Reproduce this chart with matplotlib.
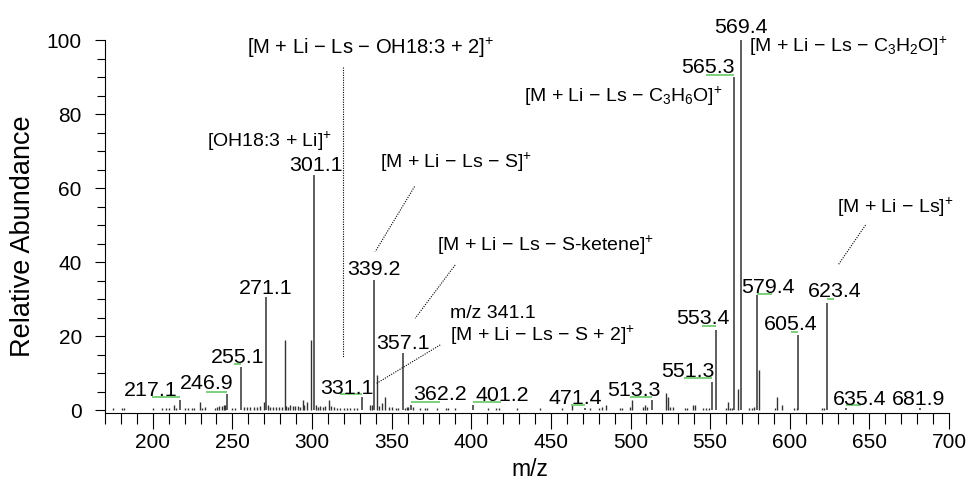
import numpy as np
import matplotlib.pyplot as plt
from matplotlib.ticker import MultipleLocator

plt.rcParams['font.family'] = ['Liberation Sans', 'DejaVu Sans']
plt.rcParams['mathtext.fontset'] = 'custom'
plt.rcParams['mathtext.rm'] = 'Liberation Sans'
plt.rcParams['mathtext.it'] = 'Liberation Sans:italic'
plt.rcParams['mathtext.bf'] = 'Liberation Sans:bold'

# labelled peaks (m/z, relative abundance)
peak_mz = [217.1, 246.9, 255.1, 271.1, 301.1, 331.1, 339.2, 357.1, 362.2, 401.2,
           471.4, 513.3, 551.3, 553.4, 565.3, 569.4, 579.4, 605.4, 623.4, 635.4, 681.9]
peak_ab = [2.7, 4.3, 11.7, 30.6, 63.5, 3.6, 35.1, 15.3, 1.35, 1.4,
           0.5, 2.7, 7.7, 21.6, 90.0, 100.0, 31.1, 20.3, 29.0, 0.5, 0.5]
peak_lab = ['217.1', '246.9', '255.1', '271.1', '301.1', '331.1', '339.2', '357.1', '362.2', '401.2',
            '471.4', '513.3', '551.3', '553.4', '565.3', '569.4', '579.4', '605.4', '623.4', '635.4', '681.9']

# unlabelled peaks
other_mz = [174.9, 180.8, 182.2, 200.0, 205.9, 208.0, 210.0, 213.2, 214.7, 220.5, 222.0, 224.7,
            226.2, 229.5, 231.0, 233.1, 239.3, 240.4, 241.8, 243.5, 244.5, 245.6, 249.8, 251.9,
            257.1, 259.2, 261.3, 263.4, 265.5, 267.6, 269.6, 272.6, 273.8, 275.5, 277.5, 279.5,
            281.0, 282.8, 283.9, 284.9, 286.4, 288.1, 289.5, 291.0, 292.7, 294.1, 295.2, 296.9,
            299.1, 302.6, 303.5, 305.2, 306.9, 308.3, 310.4, 311.9, 313.6, 315.7, 317.8, 319.9,
            322.0, 324.1, 326.2, 328.2, 336.1, 337.6, 341.1, 342.3, 343.9, 346.0, 348.1, 350.2,
            352.9, 353.8, 358.4, 359.6, 360.5, 363.2, 368.0, 371.1, 372.1, 378.4, 384.3, 385.7,
            389.9, 410.8, 415.6, 417.7, 428.6, 443.2, 456.8, 463.1, 474.6, 480.4, 481.9, 484.6,
            493.4, 494.9, 499.7, 500.7, 508.0, 509.1, 510.2, 522.3, 523.3, 524.8, 526.5, 534.2,
            535.6, 539.0, 540.5, 545.3, 547.4, 549.4, 559.9, 561.4, 562.4, 563.5, 567.6, 574.3,
            576.0, 577.5, 580.6, 590.7, 592.1, 594.9, 602.8, 604.3, 620.0, 621.4]
other_ab = [0.6, 0.6, 0.6, 0.6, 0.5, 0.5, 0.6, 1.3, 0.5, 0.5, 0.5, 0.6,
            0.6, 2.1, 0.6, 0.9, 0.6, 0.9, 1.2, 1.2, 1.35, 1.35, 0.6, 0.6,
            0.9, 0.9, 0.9, 0.9, 0.9, 1.2, 2.1, 1.35, 0.9, 0.9, 0.9, 0.9,
            0.9, 18.9, 1.2, 0.9, 1.35, 1.0, 1.0, 1.0, 0.9, 2.7, 1.35, 2.1,
            18.9, 1.35, 0.9, 1.2, 0.9, 1.2, 2.7, 1.2, 0.9, 0.5, 0.5, 0.5,
            0.5, 0.5, 0.5, 0.5, 1.35, 1.35, 9.5, 1.2, 1.8, 3.4, 0.9, 0.9,
            0.6, 0.45, 0.5, 0.9, 0.9, 0.9, 0.45, 0.45, 0.45, 0.45, 0.45, 0.45,
            0.6, 0.45, 0.45, 0.45, 0.45, 0.45, 0.45, 1.35, 0.6, 0.45, 0.9, 1.35,
            0.45, 0.45, 0.9, 2.7, 0.9, 1.35, 0.9, 4.5, 3.4, 0.9, 0.9, 0.45,
            0.45, 1.35, 1.35, 0.45, 0.45, 0.6, 0.6, 2.25, 0.6, 0.6, 5.7, 0.45,
            0.45, 0.9, 10.8, 0.45, 3.4, 1.35, 0.45, 0.45, 0.45, 0.45]

# green centroid marks under some labels
green_lo = [199.3, 233.3, 250.7, 317.5, 362.2, 401.2, 462.4, 499.8, 533.4, 545.0,
            547.3, 579.4, 600.7, 623.4, 635.4]
green_hi = [217.1, 246.9, 255.1, 331.1, 380.1, 418.9, 471.4, 513.3, 551.3, 553.4,
            565.3, 588.6, 605.4, 628.0, 644.8]
green_ab = [3.4, 4.9, 12.4, 4.3, 2.1, 2.1, 1.35, 3.4, 8.7, 22.7,
            90.5, 31.3, 21.0, 30.0, 1.35]

# label offsets from peak top, in pixels (layout only)
lab_dx = [-29.6, -21, -3, 0, 2, -15, -1, 0, 29, 29,
          -10, -17.5, -24, -13, -27, 0, 11, -7.5, 7.8, 13, -2]
lab_dy = [11.7, 12.4, 11.7, 10.8, 11.7, 10, 12.4, 11.7, 13, 11.5,
          12.3, 11.7, 12.2, 13.3, 12, 15, 10, 12.2, 13.4, 11.3, 11.3]

fig = plt.figure(figsize=(9.68, 4.79), dpi=100)
ax = fig.add_axes([105/968, 66/479, 844/968, 373/479])

ax.vlines(other_mz, 0, other_ab, color='#333333', lw=1.0)
ax.vlines(peak_mz, 0, peak_ab, color='#333333', lw=1.1)
ax.hlines(green_ab, green_lo, green_hi, color='#7ccf7c', lw=1.4)

for mz, ab, lab, dx, dy in zip(peak_mz, peak_ab, peak_lab, lab_dx, lab_dy):
    ax.annotate(lab, xy=(mz, ab), xytext=(dx, dy - 7.7), textcoords='offset pixels',
                ha='center', va='baseline', fontsize=15.4)

# ion annotations
fs = 14
ax.text(259.3, 97.8, '[M + Li − Ls − OH18:3 + 2]$^{+}$', fontsize=14.5, va='center', ha='left')
ax.text(234.1, 72.5, '[OH18:3 + Li]$^{+}$', fontsize=fs, va='center', ha='left')
ax.text(342.4, 67.0, '[M + Li − Ls − S]$^{+}$', fontsize=fs, va='center', ha='left')
ax.text(378.6, 44.6, '[M + Li − Ls − S-ketene]$^{+}$', fontsize=fs, va='center', ha='left')
ax.text(386.4, 26.1, 'm/z 341.1', fontsize=fs, va='center', ha='left')
ax.text(386.4, 20.3, '[M + Li − Ls − S + 2]$^{+}$', fontsize=fs, va='center', ha='left')
ax.text(433.2, 84.7, '[M + Li − Ls − C$_3$H$_6$O]$^{+}$', fontsize=fs, va='center', ha='left')
ax.text(574.5, 98.2, '[M + Li − Ls − C$_3$H$_2$O]$^{+}$', fontsize=fs, va='center', ha='left')
ax.text(629.7, 54.9, '[M + Li − Ls]$^{+}$', fontsize=fs, va='center', ha='left')

# dotted leader lines
dot = dict(color='black', lw=0.8, ls=(0, (1, 1.2)))
ax.plot([319.7, 319.7], [92.8, 14.4], **dot)
ax.plot([364.4, 339.7], [60.4, 42.8], **dot)
ax.plot([389.9, 364.8], [39.2, 24.8], **dot)
ax.plot([380.5, 340.6], [17.6, 7.2], **dot)
ax.plot([647.6, 630.4], [50.0, 39.2], **dot)

ax.set_xlim(170, 700)
ax.set_ylim(-0.81, 100)
ax.xaxis.set_major_locator(MultipleLocator(50))
ax.xaxis.set_minor_locator(MultipleLocator(10))
ax.yaxis.set_major_locator(MultipleLocator(20))
ax.yaxis.set_minor_locator(MultipleLocator(5))
ax.tick_params(axis='x', which='major', length=11.5, width=0.8, labelsize=15, pad=3)
ax.tick_params(axis='x', which='minor', length=7.7, width=0.8)
ax.tick_params(axis='y', which='major', length=7.2, width=0.8, labelsize=15, pad=9.5)
ax.tick_params(axis='y', which='minor', length=6, width=0.8)

for s in ['top', 'right']:
    ax.spines[s].set_visible(False)
for s in ['left', 'bottom']:
    ax.spines[s].set_linewidth(0.8)

ax.set_xlabel('m/z', fontsize=16.5)
ax.set_ylabel('Relative Abundance', fontsize=19.5)
ax.xaxis.set_label_coords(0.5036, -0.12)
ax.yaxis.set_label_coords(-0.0977, 0.475)
ax.yaxis.label.set_va('center')

fig.savefig('out.png', dpi=100)
